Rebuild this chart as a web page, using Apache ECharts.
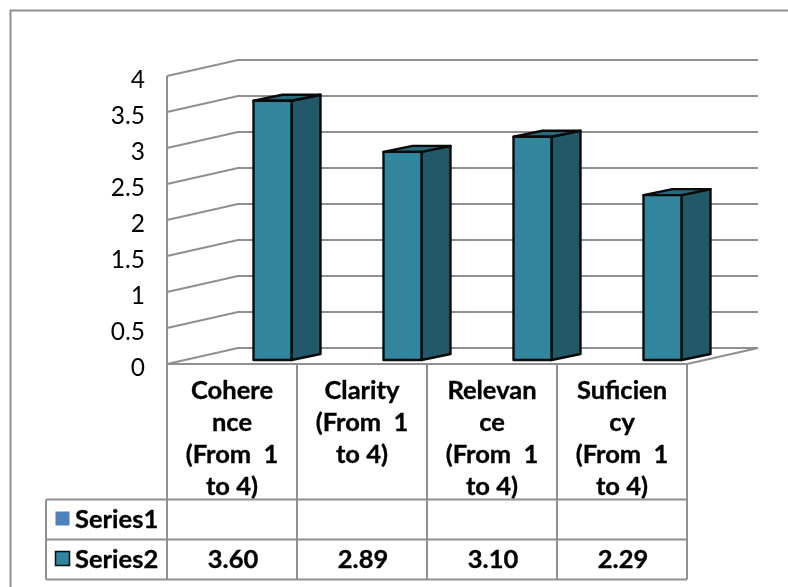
<!DOCTYPE html>
<html><head><meta charset="utf-8">
<style>html,body{margin:0;padding:0;background:#fff}#c{width:788px;height:587px}</style>
<script src="https://cdn.jsdelivr.net/npm/echarts@6/dist/echarts.min.js"></script>
</head><body><div id="c"></div>
<script>
const categories = ['Cohere\nnce\n(From  1\nto 4)', 'Clarity\n(From  1\nto 4)', 'Relevan\nce\n(From  1\nto 4)', 'Suficien\ncy\n(From  1\nto 4)'];
const series1Name = 'Series1';
const series2Name = 'Series2';
const series1Values = [null, null, null, null];
const series2Values = [3.60, 2.89, 3.10, 2.29];
const valueTicks = [0, 0.5, 1, 1.5, 2, 2.5, 3, 3.5, 4];

const LINE = '#8f8f8f', FONT = 'Lato, Carlito, sans-serif';
const chart = echarts.init(document.getElementById('c'), null, {renderer: 'canvas'});
const wallDX = 71, wallDY = -16, barDX = 29, barDY = -6;
const barW = 38, barOff = 21.5, barLift = 4;
const rowTop = 135.5, rowH = 40;

function seg(pts, w) {
  return {type: 'polyline', shape: {points: pts}, style: {stroke: LINE, lineWidth: w || 2, fill: null}, silent: true};
}
function wall(params, api) {
  const v = api.value(0), p = api.coord([0, v]), band = api.size([1, 0])[0];
  const x0 = p[0] - band / 2, y = p[1], n = categories.length;
  const kids = [];
  if (v === 0) {
    const top = api.coord([0, valueTicks[valueTicks.length - 1]])[1];
    kids.push(seg([[x0, top], [x0, y]]));
    kids.push(seg([[x0 + n * band, y], [x0 + n * band + wallDX, y + wallDY]]));
  }
  kids.push(seg([[x0, y], [x0 + wallDX, y + wallDY], [x0 + n * band + wallDX, y + wallDY]]));
  return {type: 'group', children: kids};
}
function bar(params, api) {
  const base = api.coord([api.value(0), 0]), top = api.coord([api.value(0), api.value(1)]);
  const x = base[0] + barOff, y0 = base[1] - barLift, y1 = top[1] - barLift;
  const st = c => ({fill: c, stroke: '#0a0a0a', lineWidth: 2.4, lineJoin: 'round'});
  return {type: 'group', children: [
    {type: 'polygon', shape: {points: [[x + barW, y1], [x + barW + barDX, y1 + barDY], [x + barW + barDX, y0 + barDY], [x + barW, y0]]}, style: st('#215968')},
    {type: 'polygon', shape: {points: [[x, y1], [x + barDX, y1 + barDY], [x + barW + barDX, y1 + barDY], [x + barW, y1]]}, style: st('#276b7d')},
    {type: 'rect', shape: {x: x, y: y1, width: barW, height: y0 - y1}, style: st('#31859c')}
  ]};
}
function table(params, api) {
  const i = api.value(0), p = api.coord([i, 0]), band = api.size([1, 0])[0];
  const x0 = p[0] - band / 2, x1 = x0 + band, y = p[1], kids = [];
  const lastY = y + rowTop + 2 * rowH;
  const boldText = {fill: '#000', font: 'bold 25.5px ' + FONT, textVerticalAlign: 'middle', stroke: '#000', lineWidth: 0.35};
  kids.push(seg([[x1, y], [x1, lastY]]));
  kids.push(seg([[x0, y], [x1, y]]));
  for (let r = 0; r < 3; r++) kids.push(seg([[x0, y + rowTop + r * rowH], [x1, y + rowTop + r * rowH]]));
  if (i === 0) {
    const lx = x0 - 121;
    kids.push(seg([[x0, y], [x0, lastY]]));
    kids.push(seg([[lx, y + rowTop], [lx, lastY]]));
    for (let r = 0; r < 3; r++) kids.push(seg([[lx, y + rowTop + r * rowH], [x0, y + rowTop + r * rowH]]));
    [series1Name, series2Name].forEach((name, r) => {
      const cy = y + rowTop + (r + 0.5) * rowH;
      kids.push({type: 'rect', shape: {x: lx + 9.5, y: cy - 8, width: 14, height: 14},
        style: r ? {fill: '#31859c', stroke: '#0a0a0a', lineWidth: 1.5} : {fill: '#4f81bd'}});
      kids.push({type: 'text', style: Object.assign({x: lx + 29, y: cy, text: name, textAlign: 'left'}, boldText)});
    });
  }
  const s1 = series1Values[i], s2 = series2Values[i];
  [s1, s2].forEach((val, r) => {
    if (val == null) return;
    kids.push({type: 'text', style: Object.assign({x: p[0] + 1, y: y + rowTop + (r + 0.5) * rowH, text: val.toFixed(2), textAlign: 'center'}, boldText)});
  });
  return {type: 'group', children: kids};
}

chart.setOption({
  animation: false,
  backgroundColor: '#fff',
  graphic: [
    {type: 'polyline', silent: true, shape: {points: [[10.5, 587], [10.5, 10.5], [788, 10.5]]}, style: {stroke: LINE, lineWidth: 2, fill: null}}
  ],
  grid: {left: 167, right: 101, top: 76, bottom: 223},
  xAxis: {
    type: 'category', data: categories,
    axisLine: {show: false}, axisTick: {show: false}, splitLine: {show: false},
    axisLabel: {interval: 0, margin: 11, color: '#000', fontFamily: FONT, fontWeight: 'bold', fontSize: 25.5, lineHeight: 32, align: 'center', verticalAlign: 'top', textBorderColor: '#000', textBorderWidth: 0.35}
  },
  yAxis: {
    type: 'value', min: 0, max: 4, interval: 0.5,
    axisLine: {show: false}, axisTick: {show: false}, splitLine: {show: false},
    axisLabel: {margin: 22, color: '#000', fontFamily: FONT, fontSize: 24.5, verticalAlign: 'top', lineHeight: 8}
  },
  series: [
    {type: 'custom', name: 'walls', z: 1, coordinateSystem: 'cartesian2d', renderItem: wall, encode: {y: 0}, data: valueTicks.map(v => [v])},
    {type: 'custom', name: 'table', z: 2, coordinateSystem: 'cartesian2d', renderItem: table, encode: {x: 0}, data: categories.map((c, i) => [i])},
    {type: 'custom', name: series2Name, z: 3, coordinateSystem: 'cartesian2d', renderItem: bar, encode: {x: 0, y: 1}, data: series2Values.map((v, i) => [i, v])}
  ]
});
</script></body></html>
